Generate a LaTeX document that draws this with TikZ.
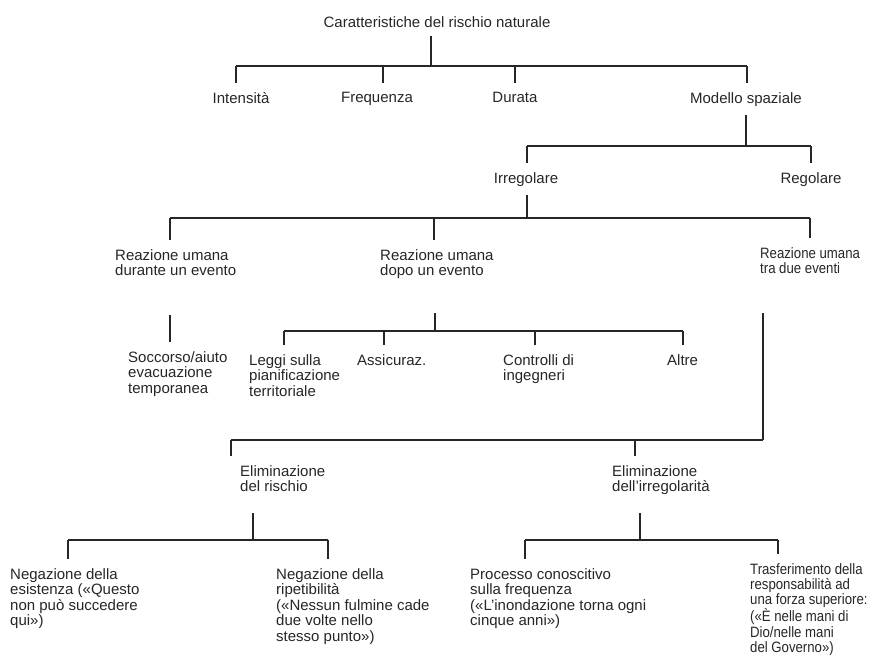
\documentclass[tikz,border=0pt]{standalone}
\usepackage{fontspec}
\setmainfont{Liberation Sans}
\usepackage{tikz}
\usetikzlibrary{positioning}

\begin{document}
\begin{tikzpicture}[
    x=1pt, y=-1pt,
    lbl/.style={font=\fontsize{15}{15.5}\selectfont, inner xsep=0pt, inner ysep=9pt, align=left, text=black!85},
    narrowlbl/.style={lbl, font=\fontsize{15}{15.3}\selectfont, xscale=0.88, transform shape},
    ln/.style={line width=1.3pt, draw=black!85}
]
\useasboundingbox (0,0) rectangle (870,659);

% top level
\node[lbl, anchor=north] (title) at (437,7) {Caratteristiche del rischio naturale};
\node[lbl, anchor=north] (intens) at (241,83) {Intensità};
\node[lbl, anchor=north] (freq) at (377,83) {Frequenza};
\node[lbl, anchor=north] (durata) at (515,83) {Durata};
\node[lbl, anchor=north] (modello) at (746,83) {Modello spaziale};
\coordinate (j1) at (431,66);
\coordinate (j1a) at (236,66);
\coordinate (j1b) at (383,66);
\coordinate (j1c) at (515,66);
\coordinate (j1d) at (747,66);
\draw[ln] (j1 |- title.south) -- (j1);
\draw[ln] (j1a) -- (j1d);
\draw[ln] (j1a) -- (j1a |- intens.north);
\draw[ln] (j1b) -- (j1b |- freq.north);
\draw[ln] (j1c) -- (j1c |- durata.north);
\draw[ln] (j1d) -- (j1d |- modello.north);

% spatial model
\node[lbl, anchor=north] (irreg) at (526,163) {Irregolare};
\node[lbl, anchor=north] (reg) at (811,163) {Regolare};
\coordinate (j2) at (746,146);
\coordinate (j2a) at (527,146);
\coordinate (j2b) at (811,146);
\draw[ln] (j2 |- modello.south) -- (j2);
\draw[ln] (j2a) -- (j2b);
\draw[ln] (j2a) -- (j2a |- irreg.north);
\draw[ln] (j2b) -- (j2b |- reg.north);

% human reactions
\node[lbl, anchor=north west] (rudur) at (115,240) {Reazione umana\\durante un evento};
\node[lbl, anchor=north west] (rudopo) at (380,240) {Reazione umana\\dopo un evento};
\node[narrowlbl, anchor=north west] (rutra) at (760,238) {Reazione umana\\tra due eventi};
\coordinate (j3) at (527,218);
\coordinate (j3a) at (170,218);
\coordinate (j3b) at (434,218);
\coordinate (j3c) at (810,218);
\draw[ln] (j3 |- irreg.south) -- (j3);
\draw[ln] (j3a) -- (j3c);
\draw[ln] (j3a) -- (j3a |- rudur.north);
\draw[ln] (j3b) -- (j3b |- rudopo.north);
\draw[ln] (j3c) -- (j3c |- rutra.north);

% during an event
\node[lbl, anchor=north west] (socc) at (128,342) {Soccorso/aiuto\\evacuazione\\temporanea};
\coordinate (j4) at (170,315);
\draw[ln] (j4) -- (j4 |- socc.north);

% after an event
\node[lbl, anchor=north west] (leggi) at (249,345) {Leggi sulla\\pianificazione\\territoriale};
\node[lbl, anchor=north west] (assic) at (357,345) {Assicuraz.};
\node[lbl, anchor=north west] (contr) at (503,345) {Controlli di\\ingegneri};
\node[lbl, anchor=north west] (altre) at (667,345) {Altre};
\coordinate (j5) at (435,313);
\coordinate (j5m) at (435,331);
\coordinate (j5a) at (284,331);
\coordinate (j5b) at (384,331);
\coordinate (j5c) at (535,331);
\coordinate (j5d) at (683,331);
\draw[ln] (j5) -- (j5m);
\draw[ln] (j5a) -- (j5d);
\draw[ln] (j5a) -- (j5a |- leggi.north);
\draw[ln] (j5b) -- (j5b |- assic.north);
\draw[ln] (j5c) -- (j5c |- contr.north);
\draw[ln] (j5d) -- (j5d |- altre.north);

% between two events
\node[lbl, anchor=north west] (elimr) at (240,456) {Eliminazione\\del rischio};
\node[lbl, anchor=north west] (elimi) at (612,456) {Eliminazione\\dell'irregolarità};
\coordinate (j6) at (763,313);
\coordinate (j6m) at (763,440);
\coordinate (j6a) at (231,440);
\coordinate (j6b) at (635,440);
\draw[ln] (j6) -- (j6m);
\draw[ln] (j6a) -- (j6m);
\draw[ln] (j6a) -- (j6a |- elimr.north);
\draw[ln] (j6b) -- (j6b |- elimi.north);

% removing the risk
\node[lbl, anchor=north west] (nege) at (10,559) {Negazione della\\esistenza («Questo\\non può succedere\\qui»)};
\node[lbl, anchor=north west] (negr) at (276,559) {Negazione della\\ripetibilità\\(«Nessun fulmine cade\\due volte nello\\stesso punto»)};
\coordinate (j7) at (253,513);
\coordinate (j7m) at (253,540);
\coordinate (j7a) at (68,540);
\coordinate (j7b) at (328,540);
\draw[ln] (j7) -- (j7m);
\draw[ln] (j7a) -- (j7b);
\draw[ln] (j7a) -- (j7a |- nege.north);
\draw[ln] (j7b) -- (j7b |- negr.north);

% removing the irregularity
\node[lbl, anchor=north west] (proc) at (470,559) {Processo conoscitivo\\sulla frequenza\\(«L'inondazione torna ogni\\cinque anni»)};
\node[narrowlbl, anchor=north west] (trasf) at (750,554) {Trasferimento della\\responsabilità ad\\una forza superiore:\\(«È nelle mani di\\Dio/nelle mani\\del Governo»)};
\coordinate (j8) at (640,513);
\coordinate (j8m) at (640,540);
\coordinate (j8a) at (525,540);
\coordinate (j8b) at (778,540);
\draw[ln] (j8) -- (j8m);
\draw[ln] (j8a) -- (j8b);
\draw[ln] (j8a) -- (j8a |- proc.north);
\draw[ln] (j8b) -- (j8b |- trasf.north);
\end{tikzpicture}
\end{document}
